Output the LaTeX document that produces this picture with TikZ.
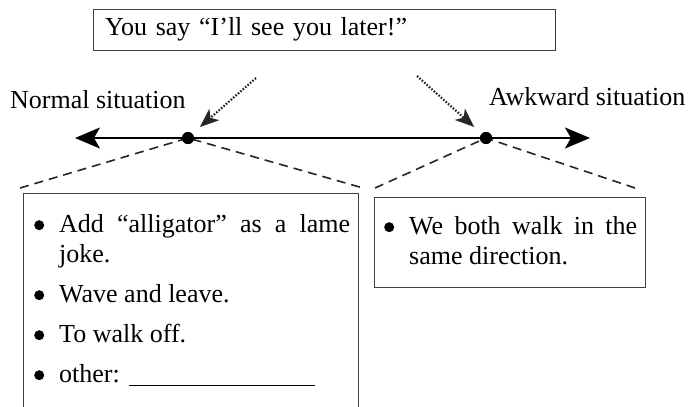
\documentclass[tikz,border=0pt]{standalone}
\usepackage{fontspec}
\setmainfont{Liberation Serif}
\usetikzlibrary{arrows.meta}

\newcommand{\blob}{\tikz[x=1cm,y=1cm,baseline=-7pt]\fill (0,0) circle (5pt);}
\newenvironment{bulletlist}{%
  \begin{list}{\blob}{\setlength{\leftmargin}{20pt}\setlength{\labelwidth}{10pt}%
    \setlength{\labelsep}{15pt}\setlength{\itemsep}{10pt}\setlength{\parsep}{0pt}%
    \setlength{\topsep}{0pt}\setlength{\partopsep}{0pt}}}{\end{list}}

\tikzset{
  txt/.style={font=\fontsize{26}{30}\selectfont, inner sep=0pt},
  frame/.style={draw=black!75, line width=0.9pt},
  spot/.style={circle, fill=black, inner sep=0pt, minimum size=12pt},
  zoomline/.style={black!85, line width=1.6pt, dash pattern=on 9pt off 6pt},
  pointer/.style={black!85, line width=2.2pt, dash pattern=on 1.6pt off 1.6pt,
    -{Stealth[length=19pt,width=15pt,inset=5pt]}, shorten >=10pt},
}

\begin{document}
\begin{tikzpicture}[x=1pt,y=-1pt]
    \useasboundingbox (0,0) rectangle (689,407);

    \node[txt, frame, minimum width=462pt, minimum height=41pt, inner xsep=12pt,
      text width=438pt, align=left] (say) at (324,29.5) {You say “I’ll see you later!”};

    % the line of situations
    \coordinate (lend) at (75,138);
    \coordinate (rend) at (590,138);
    \draw[line width=1.8pt, {Stealth[length=25pt,width=21pt,inset=6pt]}-{Stealth[length=25pt,width=21pt,inset=6pt]}] (lend) -- (rend);
    \node[spot] (calm) at (188,138) {};
    \node[spot] (odd) at (486,138) {};

    \node[txt, anchor=base west] (normal) at (10,108) {Normal situation};
    \node[txt, anchor=base west] (awkward) at (489,105) {Awkward situation};

    \coordinate (calmfrom) at (256,78);
    \coordinate (oddfrom) at (417,76);
    \draw[pointer] (calmfrom) -- (calm.north east);
    \draw[pointer] (oddfrom) -- (odd.north west);

    % zoom lines down to the boxes
    \coordinate (calmleft) at (20,188);
    \coordinate (calmright) at (363,188);
    \coordinate (oddleft) at (375,188);
    \coordinate (oddright) at (635,188);
    \draw[zoomline] (calmleft) -- (calm.center) -- (calmright);
    \draw[zoomline] (oddleft) -- (odd.center) -- (oddright);
    \node[spot] at (calm) {};
    \node[spot] at (odd) {};

    % boxes
    \draw[frame] (23,407) |- (358,193) -- (358,407);
    \draw[frame] (374,197) rectangle (645,287);

    \node[txt, anchor=north west, text width=311pt, align=justify] (ideas) at (39,202) {%
      \begin{bulletlist}
      \item Add “alligator” as a lame joke.
      \item Wave and leave.
      \item To walk off.
      \item other: \rule[-4pt]{186pt}{1pt}
      \end{bulletlist}};
    \node[txt, anchor=north west, text width=248pt, align=justify] (same) at (389,204) {%
      \begin{bulletlist}
      \item We both walk in the same direction.
      \end{bulletlist}};
\end{tikzpicture}
\end{document}
